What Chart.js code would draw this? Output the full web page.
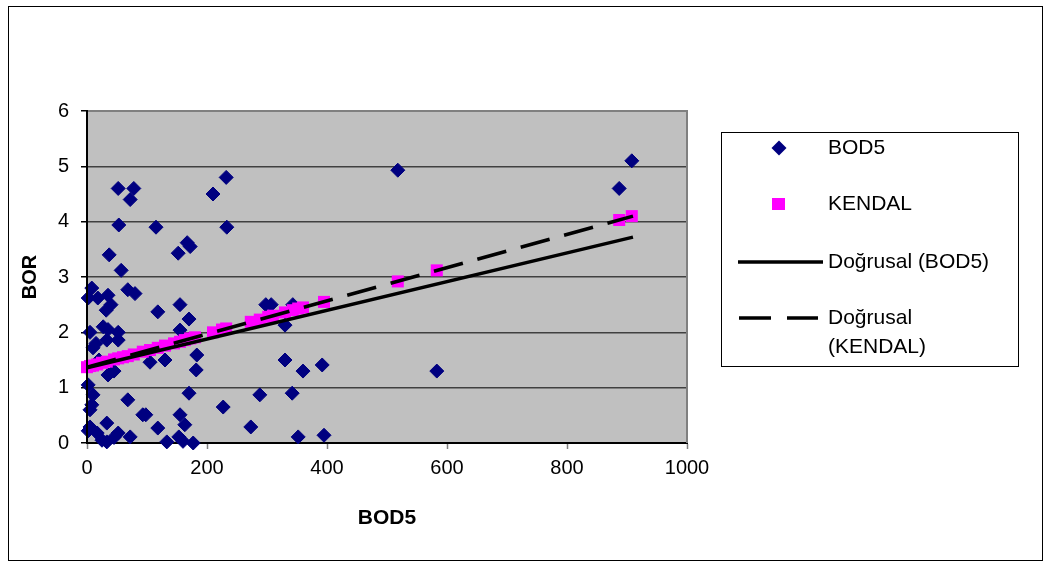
<!DOCTYPE html>
<html>
<head>
<meta charset="utf-8">
<script src="https://cdn.jsdelivr.net/npm/chart.js@4.4.1/dist/chart.umd.min.js"></script>
<style>
  body { margin: 0; background: #fff; }
</style>
</head>
<body>
<canvas id="chart" width="1044" height="563"></canvas>
<script>
// BOD5 scatter (x = BOD5, y = BOR)
var bodX = [8, 2, 18, 35, 32, 40, 57, 68, 80, 52, 78, 72, 53, 37,
            5, 27, 35, 52, 33, 52, 10, 15, 20, 35, 45, 2, 10, 8, 5, 68, 93, 5, 33, 17, 2, 33, 52, 72, 45, 25,
            115, 118, 155, 170, 155, 105, 130, 183, 182, 170, 98, 118, 155, 163, 133, 153, 177, 160,
            152, 167, 172, 210, 232, 233, 298, 307, 343, 330, 330, 360, 392, 288, 342, 227, 273, 352, 395,
            518, 583, 887, 908];
var bodY = [2.8, 2.62, 2.62, 2.67, 2.4, 2.5, 3.12, 2.77, 2.7, 4.6, 4.6, 4.4, 3.94, 3.4,
            2.0, 2.1, 2.05, 2.0, 1.86, 1.86, 1.72, 1.8, 1.5, 1.23, 1.3, 1.05, 0.87, 0.69, 0.6, 0.78, 0.51, 0.29, 0.36, 0.18, 0.22, 0.02, 0.18, 0.11, 0.1, 0.05,
            3.9, 2.37, 2.5, 2.24, 2.04, 1.46, 1.5, 1.59, 1.32, 0.9, 0.51, 0.27, 0.51, 0.33, 0.02, 0.11, 0.0, 0.03,
            3.43, 3.62, 3.55, 4.5, 4.8, 3.9, 2.5, 2.5, 2.5, 2.13, 1.5, 1.3, 1.41, 0.87, 0.9, 0.65, 0.29, 0.11, 0.14,
            4.93, 1.3, 4.6, 5.1];

// KENDAL series
var kendalX = [0, 5, 10, 17, 25, 33, 45, 52, 60, 68, 78, 93, 105, 118, 130, 145, 155, 163, 172, 180,
               210, 225, 232, 273, 288, 302, 310, 330, 343, 352, 360, 395, 518, 583, 887, 908];
var kendalY = [1.37, 1.39, 1.4, 1.42, 1.45, 1.47, 1.51, 1.53, 1.55, 1.57, 1.6, 1.65, 1.68, 1.72, 1.76, 1.8, 1.83, 1.86, 1.89, 1.91,
               2.0, 2.05, 2.07, 2.19, 2.23, 2.28, 2.3, 2.36, 2.4, 2.43, 2.45, 2.55, 2.92, 3.12, 4.03, 4.1];

// trend lines (Doğrusal)
var trendX = [0, 910];
var trendBodY = [1.36, 3.72];
var trendKendalY = [1.37, 4.1];

var xTicks = [0, 200, 400, 600, 800, 1000];
var yTicks = [0, 1, 2, 3, 4, 5, 6];

var legendLabels = ["BOD5", "KENDAL", "Doğrusal (BOD5)", ["Doğrusal", "(KENDAL)"]];

function pts(xs, ys) {
  var out = [];
  for (var i = 0; i < xs.length; i++) out.push({ x: xs[i], y: ys[i] });
  return out;
}

var FONT = "'Liberation Sans', Arial, sans-serif";

var frame = {
  id: "frame",
  beforeDraw: function (chart) {
    var ctx = chart.ctx, a = chart.chartArea;
    ctx.save();
    ctx.fillStyle = "#fff";
    ctx.fillRect(0, 0, chart.width, chart.height);
    ctx.fillStyle = "#C0C0C0";
    ctx.fillRect(a.left, a.top, a.right - a.left, a.bottom - a.top);
    // outer border
    ctx.strokeStyle = "#000";
    ctx.lineWidth = 1;
    ctx.strokeRect(8.5, 6.5, 1034, 554);
    ctx.restore();
  },
  beforeDatasetsDraw: function (chart) {
    var ctx = chart.ctx, a = chart.chartArea;
    ctx.save();
    ctx.strokeStyle = "#808080";
    ctx.lineWidth = 2;
    ctx.beginPath();
    ctx.moveTo(a.left, a.top);
    ctx.lineTo(a.right, a.top);
    ctx.lineTo(a.right, a.bottom);
    ctx.stroke();
    ctx.restore();
  },
  afterDraw: function (chart) {
    var ctx = chart.ctx;
    var ds = chart.data.datasets;
    ctx.save();
    ctx.strokeStyle = "#000";
    ctx.lineWidth = 1;
    ctx.strokeRect(721.5, 132.5, 297, 234);
    ctx.font = "21px " + FONT;
    ctx.textBaseline = "middle";
    ctx.textAlign = "left";
    var rows = [148, 204, 262, 318];
    // diamond
    ctx.fillStyle = ds[3].backgroundColor;
    ctx.beginPath();
    ctx.moveTo(779 - 7.5, rows[0]);
    ctx.lineTo(779, rows[0] - 7.5);
    ctx.lineTo(779 + 7.5, rows[0]);
    ctx.lineTo(779, rows[0] + 7.5);
    ctx.closePath();
    ctx.fill();
    // square
    ctx.fillStyle = ds[2].backgroundColor;
    ctx.fillRect(772, rows[1] - 6, 13, 12);
    // solid
    ctx.strokeStyle = "#000";
    ctx.lineWidth = 3.5;
    ctx.beginPath();
    ctx.moveTo(738, rows[2]);
    ctx.lineTo(823, rows[2]);
    ctx.stroke();
    // dashed
    ctx.beginPath();
    ctx.moveTo(739, rows[3]);
    ctx.lineTo(771, rows[3]);
    ctx.moveTo(787, rows[3]);
    ctx.lineTo(818, rows[3]);
    ctx.stroke();
    ctx.fillStyle = "#000";
    ctx.fillText(legendLabels[0], 828, rows[0]);
    ctx.fillText(legendLabels[1], 828, rows[1]);
    ctx.fillText(legendLabels[2], 828, rows[2]);
    ctx.fillText(legendLabels[3][0], 828, rows[3]);
    ctx.fillText(legendLabels[3][1], 828, 347);
    ctx.restore();
  }
};

new Chart("chart", {
  type: "scatter",
  data: {
    datasets: [
      {
        label: "Doğrusal (BOD5)",
        data: pts(trendX, trendBodY),
        showLine: true,
        borderColor: "#000",
        borderWidth: 3.5,
        pointRadius: 0,
        clip: false,
        order: 0
      },
      {
        label: "Doğrusal (KENDAL)",
        data: pts(trendX, trendKendalY),
        showLine: true,
        borderColor: "#000",
        borderWidth: 3.5,
        borderDash: [30, 15],
        pointRadius: 0,
        clip: false,
        order: 1
      },
      {
        label: "KENDAL",
        data: pts(kendalX, kendalY),
        pointStyle: "rect",
        pointRadius: 8.5,
        backgroundColor: "#FF00FF",
        borderColor: "#FF00FF",
        borderWidth: 0,
        clip: false,
        order: 2
      },
      {
        label: "BOD5",
        data: pts(bodX, bodY),
        pointStyle: "rectRot",
        pointRadius: 7,
        backgroundColor: "#000080",
        borderColor: "#000080",
        borderWidth: 1,
        clip: false,
        order: 3
      }
    ]
  },
  options: {
    responsive: false,
    animation: false,
    devicePixelRatio: 1,
    layout: { padding: { top: 111, right: 357, bottom: 32, left: 10 } },
    plugins: {
      legend: { display: false },
      tooltip: { enabled: false }
    },
    scales: {
      x: {
        type: "linear",
        min: 0,
        max: 1000,
        afterFit: function (s) { s.height = 88; },
        afterBuildTicks: function (s) { s.ticks = xTicks.map(function (v) { return { value: v }; }); },
        border: { color: "#000", width: 2 },
        grid: { drawOnChartArea: false, drawTicks: true, tickLength: 6, tickColor: "#808080", tickWidth: 1.5 },
        ticks: {
          color: "#000", padding: 7, maxRotation: 0,
          font: { family: FONT, size: 20 },
          callback: function (v) { return String(v); }
        },
        title: { display: true, text: "BOD5", color: "#000", padding: { top: 0, bottom: 0 }, font: { family: FONT, size: 21, weight: "bold" } }
      },
      y: {
        type: "linear",
        min: 0,
        max: 6,
        afterFit: function (s) { s.width = 77; },
        afterBuildTicks: function (s) { s.ticks = yTicks.map(function (v) { return { value: v }; }); },
        border: { color: "#000", width: 2, z: 1 },
        grid: {
          color: function (c) { return (c.tick && (c.tick.value === 6 || c.tick.value === 0)) ? "rgba(0,0,0,0)" : "#404040"; },
          lineWidth: 1.5,
          tickLength: 6,
          tickColor: "#000",
          tickWidth: 1.5
        },
        ticks: {
          color: "#000", padding: 12,
          font: { family: FONT, size: 20 },
          callback: function (v) { return String(v); }
        },
        title: { display: true, text: "BOR", color: "#000", padding: { top: 8, bottom: 0 }, font: { family: FONT, size: 20, weight: "bold" } }
      }
    }
  },
  plugins: [frame]
});
</script>
</body>
</html>
